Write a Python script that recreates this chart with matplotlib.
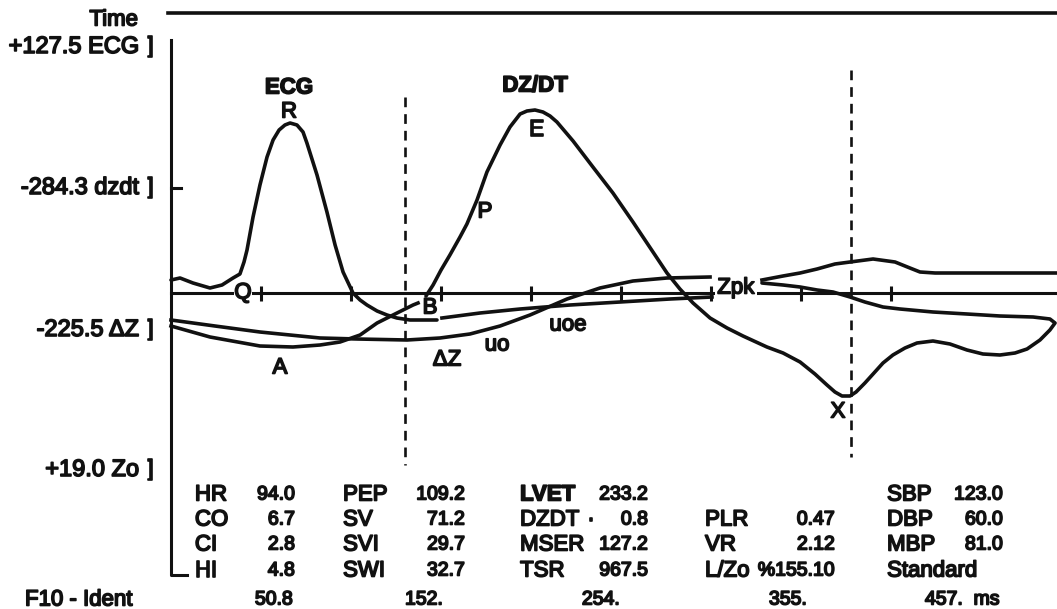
from matplotlib import pyplot as plt
import matplotlib.patheffects as pe

# time in ms, trace values in display units above the baseline
ecg_t = [0, 5.1, 12.4, 22.0, 28.8, 35.0, 38.9, 41.2, 42.9, 46.3, 50.2, 54.2, 57.6,
         61.0, 64.3, 67.2, 71.1, 74.5, 76.7, 82.4, 88.0, 92.6, 97.1, 102.7, 106.7,
         110.6, 116.3, 121.9, 127.5, 134.9, 150.1]
ecg_v = [13, 15, 10, 5, 8, 15, 19, 31, 43, 76, 108, 136, 153,
         163, 168, 170, 168, 161, 150, 118, 81, 48, 21, 0, -7,
         -12, -18, -22, -25, -27, -27]

dzdt_t = [143.9, 147.9, 152.4, 157.4, 163.1, 167.0, 172.7, 178.3, 185.7, 191.3, 197.0,
          200.9, 205.4, 209.9, 213.9, 217.8, 226.9, 238.1, 249.4, 260.7, 272.0, 279.9,
          287.2, 294.6, 304.2, 313.8, 322.8, 336.3, 345.4, 355.0, 363.4, 370.2, 374.7,
          378.7, 383.2, 386.6, 391.6, 396.2, 401.8, 407.4, 414.2, 421.0, 430.0, 439.6,
          449.2, 458.2, 467.8, 476.3, 483.1, 490.4, 496.0, 498.9, 496.0, 486.5, 467.8,
          449.2, 430.0, 411.4, 401.8, 391.6, 383.2, 373.6, 364.6, 355.0, 345.4, 333.5]
dzdt_v = [-3, 8, 23, 38, 56, 69, 93, 121, 148, 166, 179,
          182, 183, 181, 177, 171, 152, 126, 100, 71, 41, 20,
          4, -10, -25, -35, -43, -54, -60, -69, -81, -92, -99,
          -103, -103, -99, -90, -81, -70, -62, -55, -50, -48, -51,
          -57, -61, -62, -60, -56, -47, -37, -30, -26, -24, -23,
          -21, -19, -16, -14, -9, -4, 1, 3, 6, 8, 10]

# delta Z up to Zpk (uo) and after it
dz_t = [0, 24.8, 50.2, 84.1, 105.0, 133.2, 151.8, 168.7, 185.7, 202.6, 223.5,
        242.1, 260.7, 279.9, 304.2]
dz_v = [-27, -33, -39, -45, -46, -47, -45, -41, -33, -22, -6,
        5, 12, 15, 16]
dz2_t = [333.5, 345.4, 355.0, 364.6, 374.7, 383.2, 396.2, 408.6, 417.0, 422.7, 431.2, 500]
dz2_v = [13, 17, 20, 24, 29, 31, 34, 31, 25, 21, 20, 20]

# A to B
ab_t = [0, 22.0, 50.2, 68.8, 84.1, 95.4, 106.7, 116.3, 125.3, 136.6, 139.4]
ab_v = [-33, -44, -53, -54, -52, -49, -42, -30, -22, -12, -10]

# uoe
uoe_t = [152.9, 174.4, 197.0, 225.2, 253.4, 281.6, 305.3]
uoe_v = [-25, -20, -16, -12, -9, -6, -4]

tick_t = [50.8, 101.6, 152.4, 203.2, 254.0, 304.8, 355.6, 406.4]
marker_t = [132.1, 383.5]
marker_top = [196, 223]
marker_bottom = [-172, -164]

scale_labels = ["+127.5 ECG", "-284.3 dzdt", "-225.5 \u0394Z", "+19.0 Zo"]
scale_v = [246, 105, -37, -177]

table_names = [["HR", "CO", "CI", "HI"],
               ["PEP", "SV", "SVI", "SWI"],
               ["LVET", "DZDT", "MSER", "TSR"],
               ["", "PLR", "VR", "L/Zo"],
               ["SBP", "DBP", "MBP", "Standard"]]
table_values = [["94.0", "6.7", "2.8", "4.8"],
                ["109.2", "71.2", "29.7", "32.7"],
                ["233.2", "0.8", "127.2", "967.5"],
                ["", "0.47", "2.12", "%155.10"],
                ["123.0", "60.0", "81.0", ""]]
time_labels = ["50.8", "152.", "254.", "355.", "457.  ms"]

# column / row positions of the readout
name_x = [13.5, 97.1, 197.0, 301.4, 404.1]
value_x = [70.0, 165.9, 269.2, 374.7, 469.5]
time_x = [68.8, 153.5, 253.4, 358.9, 467.8]
row_y = [-202, -227, -252, -278]
bottom_y = -307

plt.rcParams['font.family'] = ['Liberation Sans', 'DejaVu Sans']
plt.rcParams['lines.scale_dashes'] = False
ink = '#111111'
thick = [pe.withStroke(linewidth=1.2, foreground=ink)]
fs = 16
fs_num = 14

fig = plt.figure(figsize=(10.57, 6.09), dpi=100)
ax = fig.add_axes([0, 0, 1, 1])
ax.set_xlim(-96.5, 500)
ax.set_ylim(-316, 293)
ax.axis('off')

lw = 2.6
ax.plot(ecg_t, ecg_v, color=ink, lw=lw, solid_capstyle='round', zorder=3)
ax.plot(dzdt_t, dzdt_v, color=ink, lw=lw, solid_capstyle='round', zorder=3)
ax.plot(dz_t, dz_v, color=ink, lw=lw, zorder=3)
ax.plot(dz2_t, dz2_v, color=ink, lw=lw, zorder=3)
ax.plot(ab_t, ab_v, color=ink, lw=lw, zorder=3)
ax.plot(uoe_t, uoe_v, color=ink, lw=lw, zorder=3)

# baseline with time ticks
ax.plot([0, 500], [0, 0], color=ink, lw=2.2, zorder=2)
ax.vlines(tick_t, -8, 7, color=ink, lw=2.2, zorder=2)

# dashed markers
for t, top, bot in zip(marker_t, marker_top, marker_bottom):
    ax.plot([t, t], [top, bot], color=ink, lw=1.9, linestyle=(0, (7, 5)), zorder=2)

# time line on top and the left scale
ax.plot([-1.7, 500], [280, 280], color=ink, lw=2.6)
ax.plot([0, 0, 9], [253, -282, -282], color=ink, lw=2.2)
ax.plot([0, 5.5], [105, 105], color=ink, lw=2.2)

txt = dict(color=ink, fontsize=fs, path_effects=thick)
num = dict(color=ink, fontsize=fs_num, path_effects=thick)
ax.text(-18.6, 273, "Time", ha='right', va='center', **txt)
for lab, v in zip(scale_labels, scale_v):
    ax.text(-18.0, v, lab, ha='right', va='center', color=ink, fontsize=17,
            path_effects=thick)
    ax.text(-11.5, v, "]", ha='center', va='center', **txt)

# trace labels
lab = dict(color=ink, fontsize=fs, ha='center', va='center', path_effects=thick)
ax.text(66.6, 205, "ECG", fontweight='bold', **lab)
ax.text(66.6, 181, "R", **lab)
ax.text(205.4, 207, "DZ/DT", fontweight='bold', **lab)
ax.text(206.5, 163, "E", **lab)
ax.text(177.2, 81, "P", **lab)
ax.text(146.2, -15, "B", **lab)
ax.text(40.6, 0, "Q", zorder=5, bbox=dict(facecolor='white', edgecolor='none', pad=0.5), **lab)
ax.text(61.5, -75, "A", **lab)
ax.text(155.8, -67, "\u0394Z", **lab)
ax.text(184.0, -52, "uo", **lab)
ax.text(224.0, -32, "uoe", **lab)
ax.text(318.8, 5, "Zpk", zorder=5, bbox=dict(facecolor='white', edgecolor='none', pad=1.5), **lab)
ax.text(376.4, -119, "X", **lab)

# readout table
for c in range(5):
    for r in range(4):
        w = 'bold' if table_names[c][r] == "LVET" else 'normal'
        ax.text(name_x[c], row_y[r], table_names[c][r], ha='left', va='center',
                fontweight=w, **txt)
        ax.text(value_x[c], row_y[r], table_values[c][r], ha='right', va='center', **num)
ax.text(237.0, row_y[1], "\u00b7", ha='center', va='center', **txt)

ax.text(-82.4, bottom_y, "F10 - Ident", ha='left', va='center', **txt)
for x, s in zip(time_x, time_labels):
    ax.text(x, bottom_y, s, ha='right', va='center', **num)

plt.savefig("out.png", dpi=100, facecolor='white')
